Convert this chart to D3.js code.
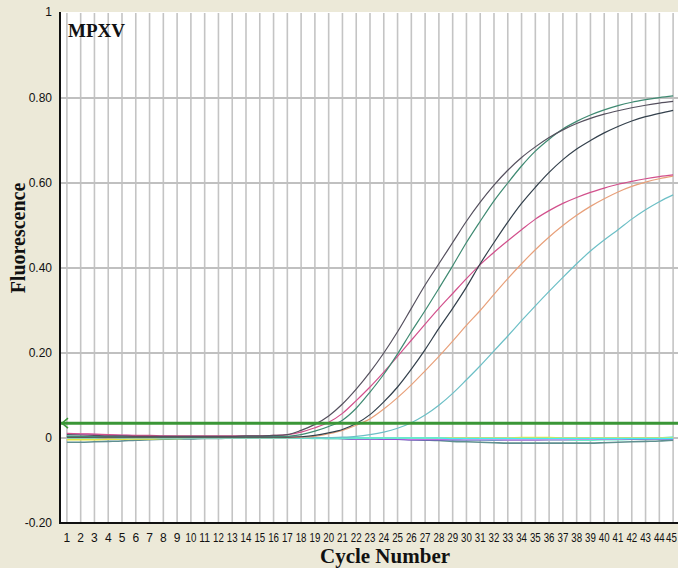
<!DOCTYPE html>
<html>
<head>
<meta charset="utf-8">
<script src="https://cdn.jsdelivr.net/npm/d3@7"></script>
<style>
  html, body { margin: 0; padding: 0; background: #ece9d8; }
  svg { display: block; }
</style>
</head>
<body>
<svg id="chart" width="678" height="568"></svg>
<script>
// cycles 1..45
const cycles = d3.range(1, 46);
const yTicks = [1, 0.8, 0.6, 0.4, 0.2, 0, -0.2];
const yTickLabels = ['1', '0.80', '0.60', '0.40', '0.20', '0', '-0.20'];
const threshold = 0.035;

// amplification curves
const ampDarkGray = [0.008,0.007,0.006,0.005,0.005,0.004,0.004,0.004,0.004,0.004,0.004,0.004,0.004,0.005,0.005,0.006,0.008,0.018,0.032,0.052,0.08,0.115,0.155,0.2,0.25,0.305,0.36,0.41,0.46,0.51,0.555,0.595,0.63,0.66,0.685,0.707,0.725,0.74,0.752,0.762,0.77,0.777,0.783,0.788,0.792];
const ampGreen = [0.004,0.004,0.003,0.003,0.003,0.003,0.003,0.003,0.003,0.003,0.003,0.003,0.003,0.003,0.003,0.003,0.004,0.008,0.016,0.027,0.042,0.07,0.108,0.15,0.198,0.25,0.3,0.352,0.405,0.46,0.51,0.558,0.6,0.64,0.675,0.703,0.727,0.745,0.76,0.772,0.782,0.79,0.796,0.801,0.805];
const ampBlack = [0.002,0.002,0.002,0.002,0.002,0.002,0.002,0.002,0.002,0.002,0.002,0.002,0.002,0.002,0.002,0.002,0.002,0.003,0.006,0.012,0.02,0.034,0.055,0.085,0.12,0.162,0.208,0.258,0.305,0.355,0.41,0.46,0.508,0.552,0.59,0.625,0.655,0.68,0.7,0.718,0.733,0.746,0.756,0.764,0.771];
const ampPink = [0.011,0.01,0.009,0.008,0.007,0.006,0.006,0.005,0.005,0.005,0.005,0.005,0.005,0.005,0.005,0.006,0.008,0.014,0.024,0.037,0.058,0.088,0.12,0.155,0.192,0.23,0.268,0.305,0.34,0.375,0.408,0.437,0.464,0.49,0.515,0.535,0.552,0.566,0.578,0.588,0.597,0.604,0.61,0.615,0.619];
const ampOrange = [0.001,0.001,0.001,0.001,0.001,0.001,0.001,0.001,0.001,0.001,0.001,0.001,0.001,0.001,0.001,0.001,0.001,0.002,0.004,0.01,0.018,0.03,0.045,0.068,0.095,0.125,0.158,0.192,0.228,0.265,0.3,0.338,0.375,0.41,0.443,0.473,0.5,0.524,0.545,0.563,0.579,0.592,0.602,0.61,0.616];
const ampCyan = [0.003,0.003,0.002,0.002,0.002,0.001,0.001,0.001,0.001,0.001,0.001,0.001,0.001,0.001,0.001,0.001,0.001,0.001,0.001,0.001,0.002,0.004,0.008,0.014,0.023,0.036,0.054,0.077,0.105,0.137,0.17,0.205,0.24,0.276,0.311,0.345,0.378,0.41,0.44,0.466,0.49,0.515,0.537,0.556,0.572];

// negative / flat curves
const flatTeal = [-0.01,-0.01,-0.009,-0.008,-0.007,-0.005,-0.004,-0.003,-0.002,-0.002,-0.001,-0.001,0,0,0,0,0,0,0,-0.001,-0.001,-0.002,-0.002,-0.003,-0.003,-0.004,-0.005,-0.006,-0.008,-0.009,-0.01,-0.011,-0.012,-0.012,-0.012,-0.012,-0.012,-0.012,-0.012,-0.011,-0.01,-0.009,-0.008,-0.007,-0.005];
const flatCyan = [0.004,0.003,0.002,0.002,0.001,0.001,0.001,0,0,0,0,0,0,0,0,0,0,0,0,0,0,0,0,0,0,0,0,0,-0.001,-0.001,-0.001,-0.001,-0.001,-0.001,-0.001,-0.001,-0.001,-0.001,-0.001,-0.001,-0.001,-0.001,-0.001,-0.001,-0.001];
const flatMagenta = [0.01,0.009,0.008,0.007,0.006,0.005,0.004,0.004,0.003,0.003,0.003,0.002,0.002,0.002,0.001,0.001,0.001,0.001,0,0,0,-0.001,-0.001,-0.001,-0.001,-0.002,-0.002,-0.002,-0.002,-0.003,-0.003,-0.003,-0.004,-0.004,-0.004,-0.004,-0.004,-0.003,-0.003,-0.002,-0.002,-0.001,-0.001,-0.001,-0.001];
const flatYellow = [-0.004,-0.004,-0.004,-0.003,-0.003,-0.002,-0.002,-0.001,-0.001,0,0,0,0,0,0,0,0,0,0,0,0,0,0,0,0,0,0,0,0,0,0,0,0,0.001,0.001,0.001,0,0,0,0,0,0,0,0,0];
const flatPurple = [0.002,0.002,0.002,0.001,0.001,0.001,0.001,0.001,0.001,0.001,0.001,0.001,0.001,0.002,0.002,0.002,0.001,0.001,0,0,-0.001,-0.002,-0.002,-0.003,-0.003,-0.004,-0.004,-0.004,-0.004,-0.004,-0.004,-0.004,-0.004,-0.004,-0.004,-0.003,-0.003,-0.003,-0.002,-0.002,-0.002,-0.002,-0.002,-0.002,-0.002];
const flatAqua = [-0.002,-0.002,-0.002,-0.002,-0.001,-0.001,-0.001,-0.001,-0.001,0,0,0,0,0,0,0,0,0,-0.001,-0.001,-0.001,-0.002,-0.002,-0.002,-0.002,-0.003,-0.003,-0.003,-0.004,-0.004,-0.004,-0.005,-0.005,-0.005,-0.005,-0.005,-0.005,-0.005,-0.005,-0.004,-0.004,-0.003,-0.002,0,0.002];

const flatSeries = [
  {name: 'teal', values: flatTeal, color: '#5f8f90'},
  {name: 'aqua', values: flatAqua, color: '#6fe8c8'},
  {name: 'purple', values: flatPurple, color: '#7a44cc'},
  {name: 'magenta', values: flatMagenta, color: '#e27ce8'},
  {name: 'yellow', values: flatYellow, color: '#e6e640'},
  {name: 'cyan', values: flatCyan, color: '#44eef0'}
];
const ampSeries = [
  {name: 'cyan', values: ampCyan, color: '#6cbfc6'},
  {name: 'orange', values: ampOrange, color: '#e8a07a'},
  {name: 'pink', values: ampPink, color: '#d2508c'},
  {name: 'black', values: ampBlack, color: '#33404c'},
  {name: 'green', values: ampGreen, color: '#3f8a72'},
  {name: 'darkgray', values: ampDarkGray, color: '#55505e'}
];

const W = 678, H = 568;
const mLeft = 60, mTop = 13, mRight = 680, mBottom = 523;

const svg = d3.select('#chart');

const x = d3.scaleLinear().domain([0.5, 45.5]).range([mLeft, mRight]);
const y = d3.scaleLinear().domain([-0.2, 1]).range([mBottom, mTop]);

svg.append('defs').append('clipPath').attr('id', 'plotclip')
  .append('rect').attr('x', mLeft).attr('y', mTop - 1).attr('width', W - mLeft).attr('height', mBottom - mTop + 1);

// plot background
svg.append('rect')
  .attr('x', mLeft).attr('y', mTop - 1)
  .attr('width', W - mLeft).attr('height', mBottom - mTop + 1)
  .attr('fill', '#ffffff');

const plot = svg.append('g').attr('clip-path', 'url(#plotclip)');

// vertical grid
plot.append('g').selectAll('line')
  .data(cycles)
  .enter().append('line')
  .attr('x1', d => x(d)).attr('x2', d => x(d))
  .attr('y1', mTop).attr('y2', mBottom)
  .attr('stroke', '#c4c4c4')
  .attr('stroke-width', 1.6);

// horizontal grid
plot.append('g').selectAll('line')
  .data([0.8, 0.6, 0.4, 0.2, 0])
  .enter().append('line')
  .attr('x1', mLeft).attr('x2', W)
  .attr('y1', d => y(d)).attr('y2', d => y(d))
  .attr('stroke', '#c0c0c0')
  .attr('stroke-width', 2);

const line = d3.line()
  .x((d, i) => x(cycles[i]))
  .y(d => y(d))
  .curve(d3.curveMonotoneX);

plot.append('g').selectAll('path')
  .data(flatSeries)
  .enter().append('path')
  .attr('d', d => line(d.values))
  .attr('fill', 'none')
  .attr('stroke', d => d.color)
  .attr('stroke-width', 1.6);

plot.append('g').selectAll('path')
  .data(ampSeries)
  .enter().append('path')
  .attr('d', d => line(d.values))
  .attr('fill', 'none')
  .attr('stroke', d => d.color)
  .attr('stroke-width', 1.2);

// threshold line with left arrow
const ty = y(threshold);
plot.append('line')
  .attr('x1', mLeft + 1).attr('x2', W)
  .attr('y1', ty).attr('y2', ty)
  .attr('stroke', '#3a9636')
  .attr('stroke-width', 3);
plot.append('path')
  .attr('d', 'M' + (mLeft + 8) + ',' + (ty - 5) + 'L' + (mLeft + 2) + ',' + ty + 'L' + (mLeft + 8) + ',' + (ty + 5))
  .attr('fill', 'none')
  .attr('stroke', '#3a9636')
  .attr('stroke-width', 1.5);

// axes lines
svg.append('line')
  .attr('x1', mLeft).attr('x2', mLeft)
  .attr('y1', mTop - 1).attr('y2', mBottom + 1)
  .attr('stroke', '#111').attr('stroke-width', 2);
svg.append('line')
  .attr('x1', mLeft).attr('x2', W)
  .attr('y1', mBottom).attr('y2', mBottom)
  .attr('stroke', '#111').attr('stroke-width', 2);

// y tick labels
svg.append('g').selectAll('text')
  .data(yTicks)
  .enter().append('text')
  .attr('x', mLeft - 8)
  .attr('y', d => y(d))
  .attr('dy', d => d === 1 ? '0.25em' : '0.35em')
  .attr('text-anchor', 'end')
  .attr('font-family', 'Liberation Sans, Arial, sans-serif')
  .attr('font-size', 12)
  .attr('fill', '#111')
  .text((d, i) => yTickLabels[i]);

// x tick labels (two-digit ones squeezed like the narrow original font)
svg.append('g').selectAll('text')
  .data(cycles)
  .enter().append('text')
  .attr('x', d => Math.min(x(d), W - 6.5))
  .attr('y', 542)
  .attr('text-anchor', 'middle')
  .attr('font-family', 'Liberation Sans, Arial, sans-serif')
  .attr('font-size', 12)
  .attr('fill', '#111')
  .attr('textLength', d => d >= 10 ? 10.8 : null)
  .attr('lengthAdjust', 'spacingAndGlyphs')
  .text(d => d);

// titles
svg.append('text')
  .attr('transform', 'translate(25,238)rotate(-90)')
  .attr('text-anchor', 'middle')
  .attr('font-family', 'Liberation Serif, Times New Roman, serif')
  .attr('font-weight', 'bold')
  .attr('font-size', 20)
  .attr('fill', '#111')
  .text('Fluorescence');

svg.append('text')
  .attr('x', 385).attr('y', 563)
  .attr('text-anchor', 'middle')
  .attr('font-family', 'Liberation Serif, Times New Roman, serif')
  .attr('font-weight', 'bold')
  .attr('font-size', 21)
  .attr('fill', '#111')
  .text('Cycle Number');

svg.append('text')
  .attr('x', 68).attr('y', 37)
  .attr('font-family', 'Liberation Serif, Times New Roman, serif')
  .attr('font-weight', 'bold')
  .attr('font-size', 19)
  .attr('fill', '#111')
  .text('MPXV');
</script>
</body>
</html>
